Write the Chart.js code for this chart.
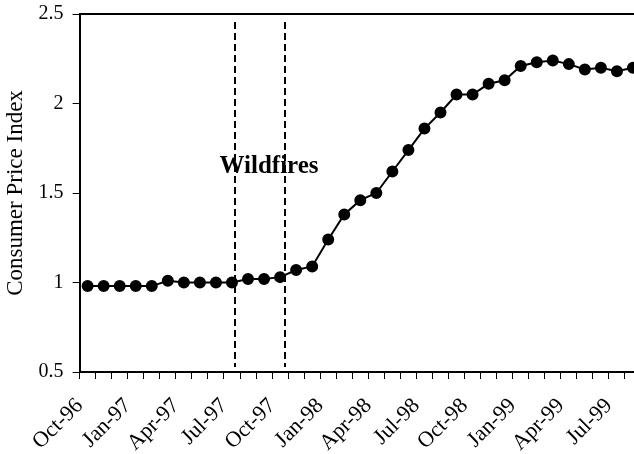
<!DOCTYPE html>
<html>
<head>
<meta charset="utf-8">
<script src="https://cdn.jsdelivr.net/npm/chart.js@4"></script>
<style>
  html, body { margin: 0; padding: 0; background: #fff; overflow: hidden; }
  #wrap { width: 648px; height: 454px; }
</style>
</head>
<body>
<div id="wrap"><canvas id="cpiChart"></canvas></div>
<script>
// Monthly categories, Oct-96 .. Aug-99
const months = [
  "Oct-96", "Nov-96", "Dec-96", "Jan-97", "Feb-97", "Mar-97", "Apr-97", "May-97", "Jun-97",
  "Jul-97", "Aug-97", "Sep-97", "Oct-97", "Nov-97", "Dec-97", "Jan-98", "Feb-98", "Mar-98",
  "Apr-98", "May-98", "Jun-98", "Jul-98", "Aug-98", "Sep-98", "Oct-98", "Nov-98", "Dec-98",
  "Jan-99", "Feb-99", "Mar-99", "Apr-99", "May-99", "Jun-99", "Jul-99", "Aug-99"
];
const cpi = [
  0.98, 0.98, 0.98, 0.98, 0.98, 1.01, 1.00, 1.00, 1.00,
  1.00, 1.02, 1.02, 1.03, 1.07, 1.09, 1.24, 1.38, 1.46,
  1.50, 1.62, 1.74, 1.86, 1.95, 2.05, 2.05, 2.11, 2.13,
  2.21, 2.23, 2.24, 2.22, 2.19, 2.20, 2.18, 2.20
];
const yTicks = [0.5, 1, 1.5, 2, 2.5];
// wildfire period markers (category index positions)
const wildfireLines = [9.2, 12.3];
const wildfireLabel = "Wildfires";

const serif = "'Liberation Serif', 'Times New Roman', serif";

const wildfirePlugin = {
  id: "wildfires",
  afterDatasetsDraw(chart) {
    const { ctx, chartArea, scales } = chart;
    ctx.save();
    // frame top line
    ctx.strokeStyle = "#000";
    ctx.lineWidth = 2;
    ctx.beginPath();
    ctx.moveTo(chartArea.left, chartArea.top);
    ctx.lineTo(chartArea.right, chartArea.top);
    ctx.stroke();
    // dashed lines
    ctx.lineWidth = 2;
    ctx.setLineDash([7, 4]);
    wildfireLines.forEach(v => {
      const x = Math.round(scales.x.getPixelForValue(v));
      ctx.beginPath();
      ctx.moveTo(x, chartArea.top + 8);
      ctx.lineTo(x, chartArea.bottom - 5);
      ctx.stroke();
    });
    ctx.setLineDash([]);
    const mid = (scales.x.getPixelForValue(wildfireLines[0]) + scales.x.getPixelForValue(wildfireLines[1])) / 2;
    ctx.fillStyle = "#000";
    ctx.font = "bold 25px " + serif;
    ctx.textAlign = "center";
    ctx.textBaseline = "alphabetic";
    ctx.fillText(wildfireLabel, mid + 9, scales.y.getPixelForValue(1.61));
    ctx.restore();
  }
};

new Chart(document.getElementById("cpiChart"), {
  type: "line",
  data: {
    labels: months,
    datasets: [{
      data: cpi,
      borderColor: "#000",
      borderWidth: 2,
      backgroundColor: "#000",
      pointRadius: 5,
      pointHoverRadius: 5,
      tension: 0
    }]
  },
  options: {
    responsive: true,
    maintainAspectRatio: false,
    animation: false,
    layout: { padding: { top: 14, right: 0, left: 0, bottom: 0 } },
    plugins: { legend: { display: false }, tooltip: { enabled: false } },
    scales: {
      x: {
        offset: true,
        afterFit: axis => { axis.paddingRight = 0; axis.height = 82; },
        grid: { drawOnChartArea: false, offset: true, color: "#000", tickLength: 7, lineWidth: 1 },
        border: { color: "#000", width: 2 },
        ticks: {
          autoSkip: false,
          maxRotation: 45,
          minRotation: 45,
          padding: 14,
          labelOffset: -8,
          color: "#000",
          font: { family: serif, size: 22 },
          callback: (v, i) => (i % 3 === 0 ? months[i] : "")
        }
      },
      y: {
        min: 0.5,
        max: 2.5,
        afterBuildTicks: axis => { axis.ticks = yTicks.map(v => ({ value: v })); },
        afterFit: axis => { axis.paddingTop = 0; axis.paddingBottom = 0; },
        grid: { drawOnChartArea: false, color: "#000", tickLength: 7 },
        border: { color: "#000", width: 2 },
        ticks: { color: "#000", font: { family: serif, size: 20 }, padding: 9, callback: v => String(v) },
        title: { display: true, text: "Consumer Price Index", color: "#000", font: { family: serif, size: 23 }, padding: { top: 2, bottom: 0 } }
      }
    }
  },
  plugins: [wildfirePlugin]
});
</script>
</body>
</html>
